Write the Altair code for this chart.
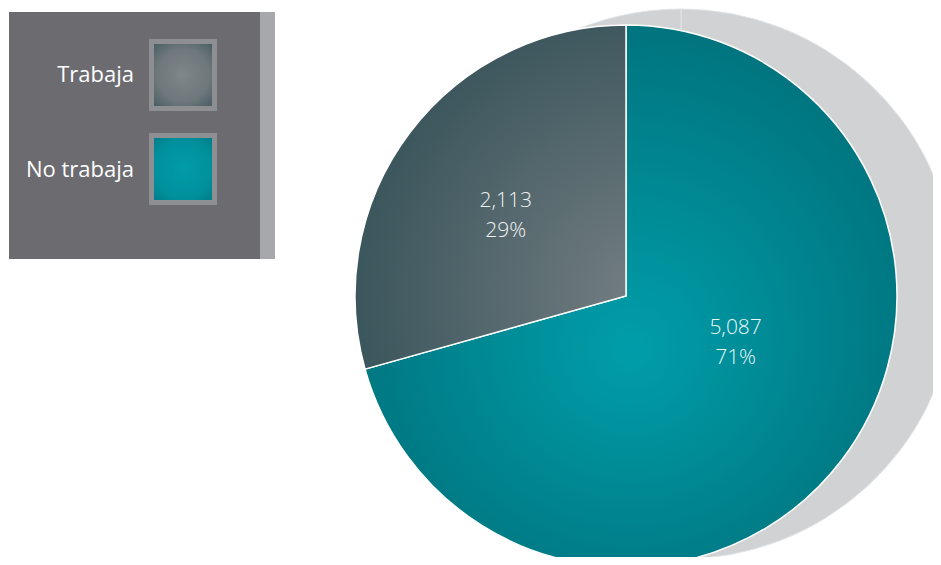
import altair as alt
import pandas as pd

# ---- data ----
categories = ["No trabaja", "Trabaja"]
values = [5087, 2113]
order = [0, 1]

df = pd.DataFrame({"cat": categories, "value": values, "idx": order})

# ---- layout / style (not data) ----
W, H = 925, 549
CX, CY, R = 618, 288, 271          # pie centre and radius
SX, SY, SR = 673, 276, 275         # shadow centre and radius


def radial(stops, x1, y1, x2, y2, r2):
    return {
        "gradient": "radial",
        "x1": x1, "y1": y1, "r1": 0,
        "x2": x2, "y2": y2, "r2": r2,
        "stops": [{"offset": o, "color": c} for o, c in stops],
    }


slice_fill = {
    "No trabaja": radial([(0, "#009eaa"), (1, "#006f79")], 0.5, 0.6, 0.5, 0.55, 0.62),
    "Trabaja": radial([(0, "#747e82"), (1, "#2d4c53")], 0.95, 0.78, 0.95, 0.78, 1.05),
}
square_fill = {
    "No trabaja": radial([(0, "#009ca8"), (0.6, "#00909c"), (1, "#007480")], 0.5, 0.5, 0.5, 0.5, 0.72),
    "Trabaja": radial([(0, "#80868a"), (0.55, "#6e777b"), (1, "#3a565c")], 0.5, 0.5, 0.5, 0.5, 0.72),
}
label_pos = {  # radius, dx, dy of the slice labels
    "No trabaja": (120, 14, -41),
    "Trabaja": (146, -4, -7),
}
legend_pos = {  # y1, y2 of the legend square, label baseline
    "Trabaja": (33.5, 100.5, 74),
    "No trabaja": (127.5, 194.5, 169),
}

base = (
    alt.Chart(df)
    .transform_joinaggregate(total="sum(value)")
    .transform_window(cum="sum(value)", sort=[alt.SortField("idx")], frame=[None, 0])
    .transform_calculate(
        t0="2*PI*(datum.cum-datum.value)/datum.total",
        t1="2*PI*datum.cum/datum.total",
        mid="PI*(2*datum.cum-datum.value)/datum.total",
        label="format(datum.value, ',') + '\\n' + format(datum.value/datum.total, '.0%')",
    )
)

layers = []

# shadow pie
layers.append(
    base.mark_arc(fill="#d1d2d4", stroke="#e3e4e6", strokeWidth=1, outerRadius=SR).encode(
        theta=alt.Theta("t0:Q", scale=None),
        theta2=alt.Theta2("t1:Q"),
        x=alt.value(SX),
        y=alt.value(SY),
    )
)

# slices
for cat in categories:
    layers.append(
        base.transform_filter(alt.datum.cat == cat)
        .mark_arc(fill=slice_fill[cat], stroke="white", strokeWidth=1.5, outerRadius=R)
        .encode(
            theta=alt.Theta("t0:Q", scale=None),
            theta2=alt.Theta2("t1:Q"),
            x=alt.value(CX),
            y=alt.value(CY),
        )
    )

# slice labels
for cat in categories:
    r, dx, dy = label_pos[cat]
    layers.append(
        base.transform_filter(alt.datum.cat == cat)
        .mark_text(
            radius=r, dx=dx, dy=dy, fontSize=21, lineBreak="\n", lineHeight=30,
            font="Open Sans", fontWeight=300, color="white", opacity=0.92,
            align="center", baseline="middle",
        )
        .encode(
            theta=alt.Theta("mid:Q", scale=None),
            text="label:N",
            x=alt.value(CX),
            y=alt.value(CY),
        )
    )

# legend box
box = pd.DataFrame({"k": [0]})
layers.append(
    alt.Chart(box).mark_rect(fill="#6b6b70").encode(
        x=alt.value(1), x2=alt.value(252), y=alt.value(4), y2=alt.value(251)
    )
)
layers.append(
    alt.Chart(box).mark_rect(fill="#a7a8ac").encode(
        x=alt.value(252), x2=alt.value(267), y=alt.value(4), y2=alt.value(251)
    )
)

for cat in categories:
    y1, y2, yb = legend_pos[cat]
    sub = alt.Chart(df).transform_filter(alt.datum.cat == cat)
    layers.append(
        sub.mark_rect(fill=square_fill[cat], stroke="#8e8f93", strokeWidth=5).encode(
            x=alt.value(143.5), x2=alt.value(206.5), y=alt.value(y1), y2=alt.value(y2)
        )
    )
    layers.append(
        sub.mark_text(
            font="Open Sans", fontSize=22, color="white", align="right", baseline="alphabetic"
        ).encode(text="cat:N", x=alt.value(126), y=alt.value(yb))
    )

chart = (
    alt.layer(*layers)
    .properties(width=W, height=H, padding=0, autosize="none", background="white")
    .configure_view(stroke="transparent", strokeWidth=0)
)

chart.save("out.html", embed_options={"renderer": "svg", "actions": False})
